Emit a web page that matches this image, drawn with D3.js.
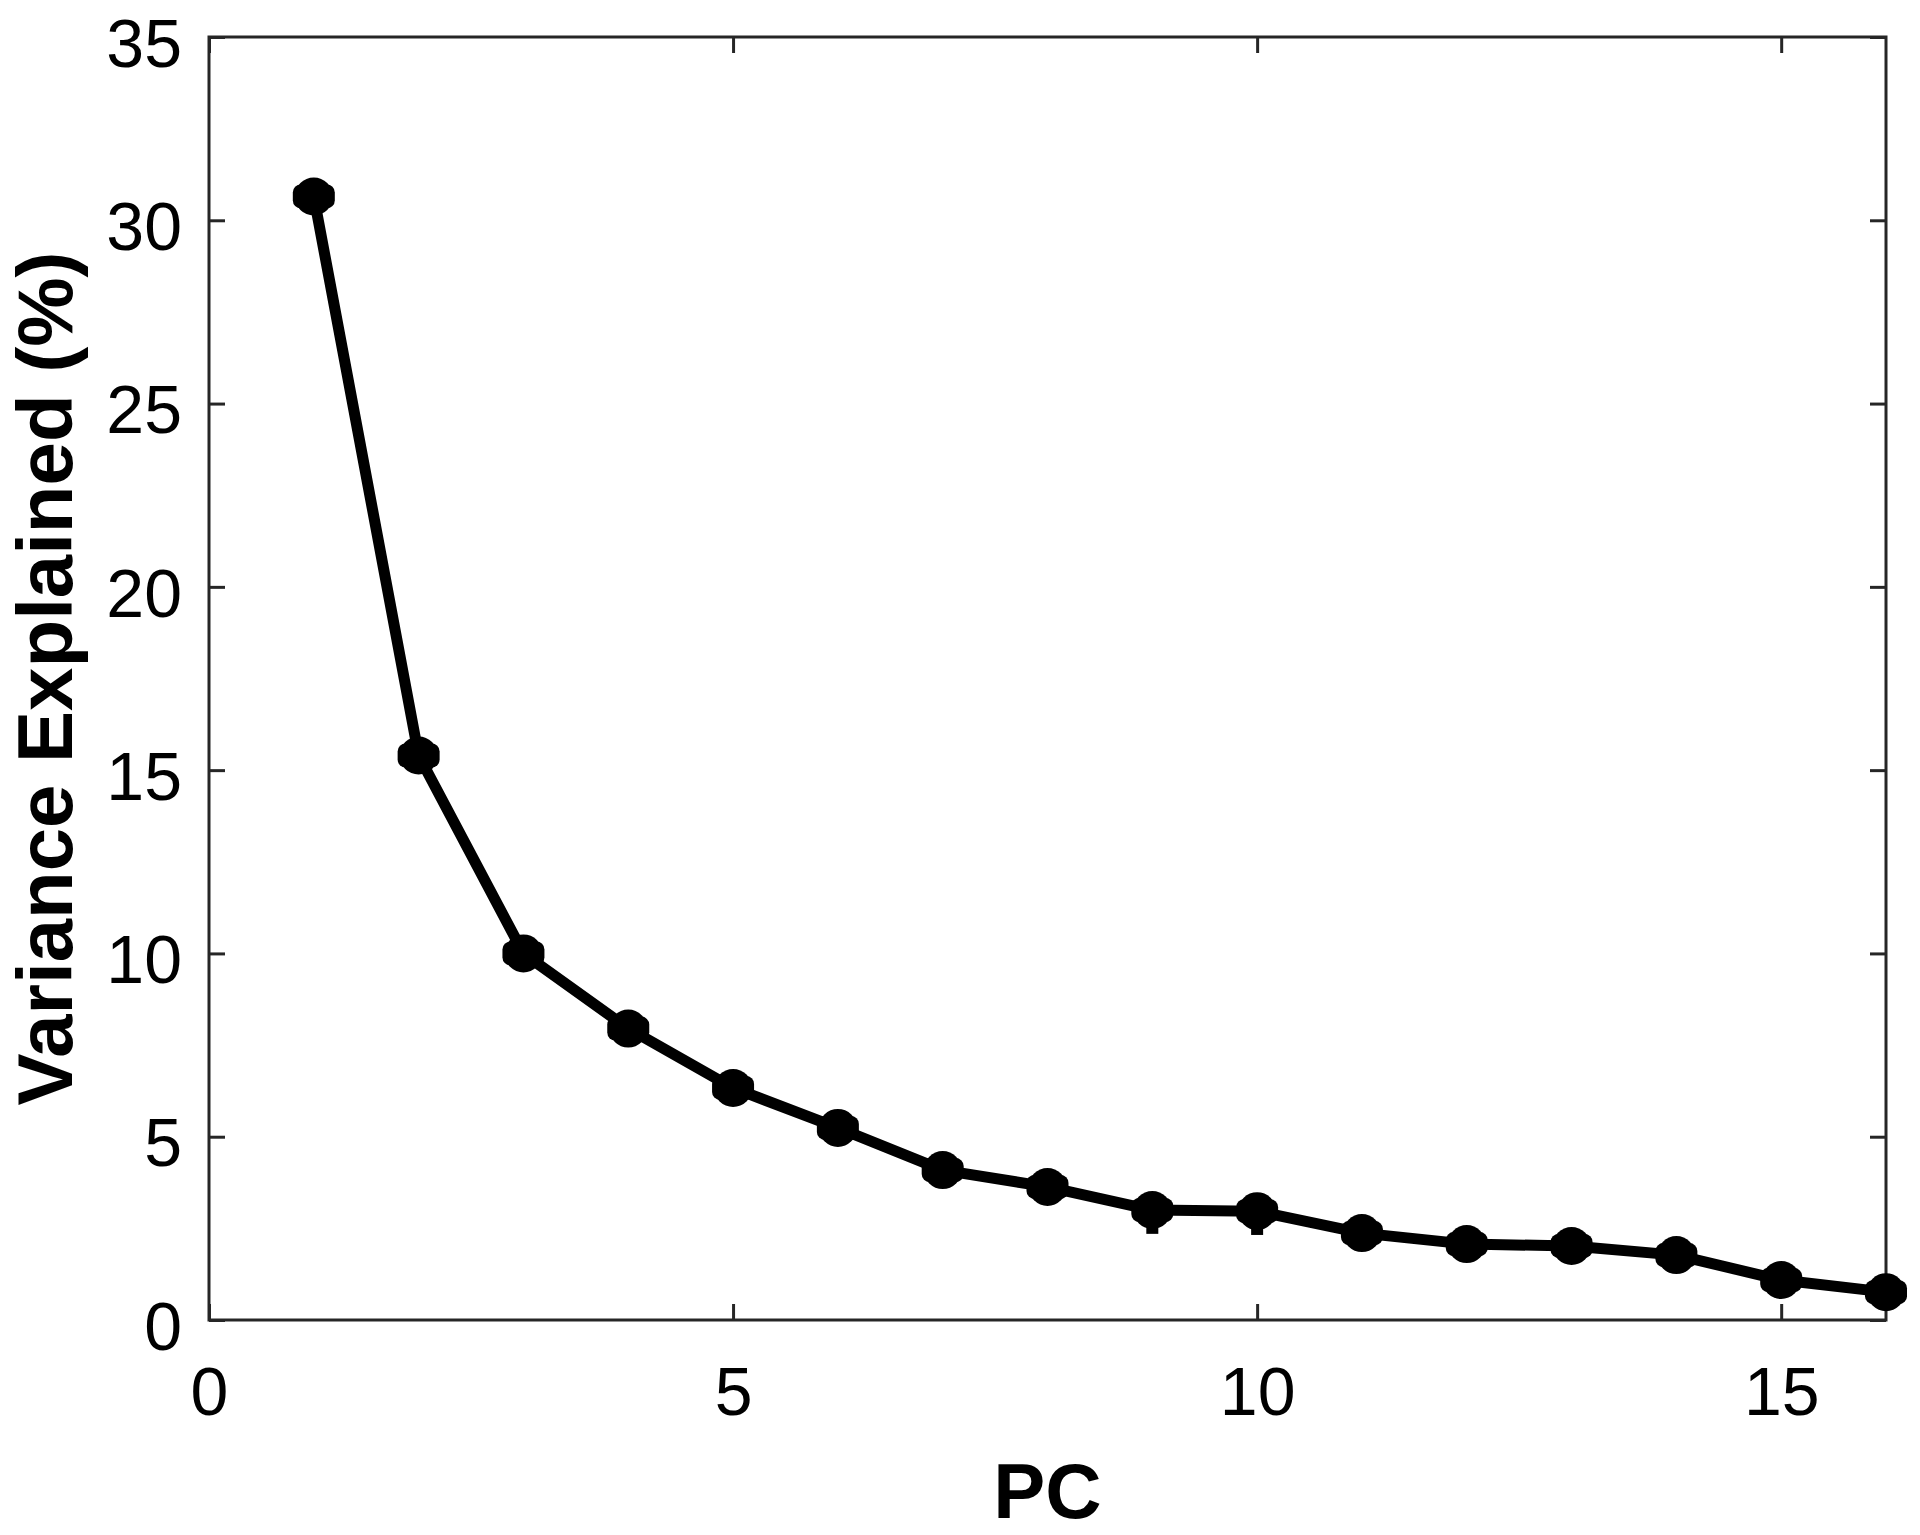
<!DOCTYPE html>
<html>
<head>
<meta charset="utf-8">
<script src="https://cdn.jsdelivr.net/npm/d3@7"></script>
<style>
    body { margin: 0; background: #fff; }
    text { font-family: "Liberation Sans", Arial, sans-serif; fill: #000; }
    .tick text { font-size: 68px; }
    .tick line { stroke: #262626; stroke-width: 3; }
    .axis-label { font-size: 78px; font-weight: bold; }
</style>
</head>
<body>
<svg class="scene"></svg>
<script>

//
// data
//

var pcs = [1, 2, 3, 4, 5, 6, 7, 8, 9, 10, 11, 12, 13, 14, 15, 16];
var variance = [30.65, 15.4, 10.0, 7.95, 6.33, 5.24, 4.09, 3.63, 3.0, 2.97, 2.37, 2.07, 2.02, 1.77, 1.09, 0.76];
var err_low = [0.4, 0.4, 0.4, 0.4, 0.4, 0.4, 0.4, 0.4, 0.65, 0.65, 0.4, 0.4, 0.4, 0.4, 0.4, 0.4];
var err_high = [0.4, 0.4, 0.4, 0.4, 0.4, 0.4, 0.4, 0.4, 0.45, 0.45, 0.4, 0.4, 0.4, 0.4, 0.4, 0.4];
var x_ticks = [0, 5, 10, 15];
var y_ticks = [0, 5, 10, 15, 20, 25, 30, 35];

//
// scene
//

var width = 1920,
    height = 1535;

var plot_left = 209, plot_right = 1886, plot_top = 37, plot_bottom = 1320;

var scene = d3.select(".scene")
    .attr("width", width)
    .attr("height", height);

var x = d3.scaleLinear().domain([0, 16]).range([plot_left, plot_right]);
var y = d3.scaleLinear().domain([0, 35]).range([plot_bottom, plot_top]);

//
// axes (ticks inward on all four sides)
//

function no_domain(g) {
    g.select(".domain").remove();
}

scene.append("g")
    .attr("transform", "translate(0," + plot_bottom + ")")
    .call(d3.axisBottom(x).tickValues(x_ticks).tickSize(-16).tickPadding(47))
    .call(no_domain);

scene.append("g")
    .attr("transform", "translate(" + plot_left + ",0)")
    .call(d3.axisLeft(y).tickValues(y_ticks).tickSize(-16).tickPadding(27))
    .call(no_domain)
    .call(function (g) { g.selectAll(".tick text").attr("dy", "0.43em"); });

scene.append("g")
    .attr("transform", "translate(0," + plot_top + ")")
    .call(d3.axisTop(x).tickValues(x_ticks).tickSize(-16).tickFormat(""))
    .call(no_domain);

scene.append("g")
    .attr("transform", "translate(" + plot_right + ",0)")
    .call(d3.axisRight(y).tickValues(y_ticks).tickSize(-16).tickFormat(""))
    .call(no_domain);

scene.selectAll("g").attr("font-family", null).attr("font-size", null);
scene.selectAll(".tick text").attr("fill", "#000");

// box
scene.append("rect")
    .attr("x", plot_left)
    .attr("y", plot_top)
    .attr("width", plot_right - plot_left)
    .attr("height", plot_bottom - plot_top)
    .attr("fill", "none")
    .attr("stroke", "#262626")
    .attr("stroke-width", 3);

//
// line
//

var points = pcs.map(function (p, i) {
    return { pc: p, v: variance[i], lo: err_low[i], hi: err_high[i] };
});

var line = d3.line()
    .x(function (d) { return x(d.pc); })
    .y(function (d) { return y(d.v); });

scene.append("path")
    .datum(points)
    .attr("d", line)
    .attr("fill", "none")
    .attr("stroke", "#000")
    .attr("stroke-width", 11)
    .attr("stroke-linejoin", "round");

//
// markers with error bars
//

var markers = scene.selectAll("g.marker")
    .data(points)
    .enter().append("g")
    .attr("class", "marker")
    .attr("transform", function (d) {
        return "translate(" + x(d.pc) + "," + y(d.v) + ")";
    });

// error stem
markers.append("rect")
    .attr("x", -6)
    .attr("y", function (d) { return y(d.v + d.hi) - y(d.v); })
    .attr("width", 12)
    .attr("height", function (d) { return y(d.v - d.lo) - y(d.v + d.hi); })
    .attr("fill", "#000");

// caps
markers.append("rect")
    .attr("x", -21)
    .attr("y", -12)
    .attr("width", 42)
    .attr("height", 24)
    .attr("rx", 8)
    .attr("fill", "#000");

// body
markers.append("circle")
    .attr("r", 19)
    .attr("fill", "#000");

//
// labels
//

scene.append("text")
    .attr("class", "axis-label")
    .attr("x", (plot_left + plot_right) / 2)
    .attr("y", 1518)
    .attr("text-anchor", "middle")
    .text("PC");

scene.append("text")
    .attr("class", "axis-label")
    .attr("transform", "translate(72," + (plot_top + plot_bottom) / 2 + ") rotate(-90)")
    .attr("text-anchor", "middle")
    .text("Variance Explained (%)");

</script>
</body>
</html>
